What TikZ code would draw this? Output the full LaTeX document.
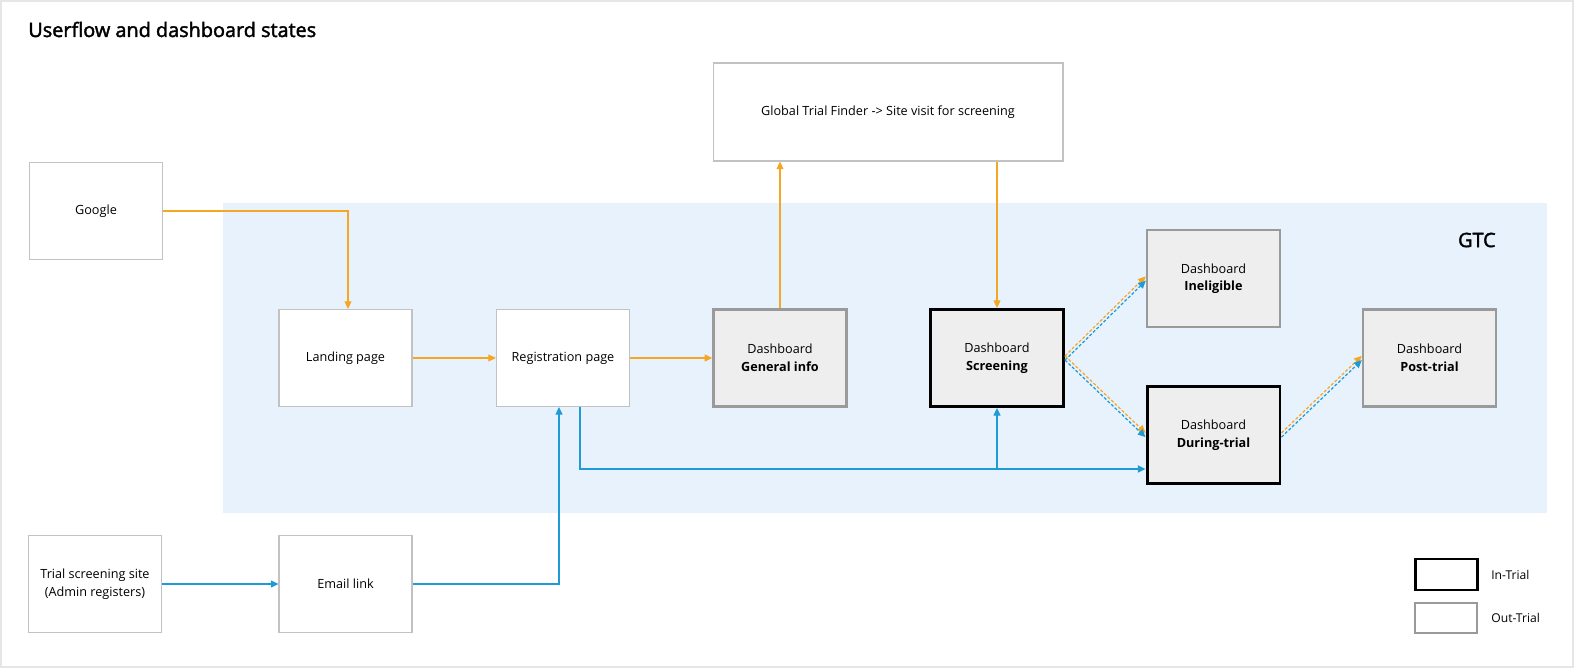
\documentclass[tikz,border=0pt]{standalone}
\usepackage{fontspec}
\setmainfont{Open Sans}
\newfontfamily\headfont{Open Sans}[FakeBold=2]
\usetikzlibrary{arrows.meta,calc}
\definecolor{flowor}{HTML}{F5A623}
\definecolor{flowbl}{HTML}{1E9AD6}
\definecolor{gtcbg}{HTML}{E8F2FD}
\definecolor{boxln}{HTML}{C2C2C2}
\definecolor{outln}{HTML}{9A9A9A}
\definecolor{dashfill}{HTML}{EEEEEE}
\definecolor{frameln}{HTML}{E6E6E6}

\begin{document}
\begin{tikzpicture}[x=0.02cm, y=-0.02cm, >={Triangle[length=4.4pt,width=4pt]},
   page/.style={rectangle, draw=boxln, fill=white, line width=0.6pt, minimum width=2.66cm, minimum height=1.94cm, align=center, font=\fontsize{7.2}{10}\selectfont, inner sep=2pt},
   intrial/.style={page, draw=black, line width=1.7pt, fill=dashfill},
   outtrial/.style={page, draw=outln, line width=1.4pt, fill=dashfill},
   orflow/.style={draw=flowor, line width=0.7pt},
   blflow/.style={draw=flowbl, line width=0.8pt},
   ordash/.style={orflow, dash pattern=on 1.7pt off 1.1pt, transform canvas={yshift=1.2pt}},
   bldash/.style={blflow, line width=0.7pt, dash pattern=on 1.7pt off 1.1pt, transform canvas={yshift=-1.2pt}},
   heading/.style={font=\fontsize{11.3}{13}\headfont, inner sep=0},
   keytext/.style={font=\fontsize{6.9}{9}\selectfont, inner sep=0, anchor=west}]
   \useasboundingbox (0,0) rectangle (1576,672);
   \draw[frameln, line width=1.2pt] (1,1) rectangle (1573,667);
   \fill[gtcbg] (223,203) rectangle (1547,513);
   \node (title) at (28,37) [heading, anchor=base west] {Userflow and dashboard states};
   \node (gtc) at (1496,240) [heading, anchor=east] {GTC};
   \node (google) at (96,211) [page] {Google};
   \node (landing) at (345.5,358) [page] {Landing page};
   \node (reg) at (563,358) [page] {Registration page};
   \node (ginfo) at (780,358) [page, outtrial] {Dashboard\\\textbf{General info}};
   \node (global) at (888,112) [page, minimum width=7cm, minimum height=1.96cm] {Global Trial Finder -> Site visit for screening};
   \node (screening) at (997,358) [page, intrial] {Dashboard\\\textbf{Screening}};
   \node (inel) at (1213.5,278.5) [page, outtrial] {Dashboard\\\textbf{Ineligible}};
   \node (during) at (1213.5,435) [page, intrial] {Dashboard\\\textbf{During-trial}};
   \node (post) at (1429.5,358) [page, outtrial] {Dashboard\\\textbf{Post-trial}};
   \node (trial) at (95,584) [page] {Trial screening site\\(Admin registers)};
   \node (email) at (345.5,584) [page] {Email link};
   \node (inkey) at (1446,574.5) [intrial, fill=white, minimum width=1.24cm, minimum height=0.62cm] {};
   \node (outkey) at (1446,618) [outtrial, fill=white, minimum width=1.24cm, minimum height=0.6cm] {};
   \node (inlbl) at (1491,574.5) [keytext] {In-Trial};
   \node (outlbl) at (1491,618) [keytext] {Out-Trial};
   \coordinate (bus) at (997,469);
   \draw[orflow, ->] (google.east) -| ($(landing.north)+(2.5,0)$);
   \draw[orflow, ->] (landing.east) -- (reg.west);
   \draw[orflow, ->] (reg.east) -- (ginfo.west);
   \draw[orflow, ->] (ginfo.north) -- (ginfo.north |- global.south);
   \draw[orflow, ->] (screening.north |- global.south) -- (screening.north);
   \draw[blflow, ->] (trial.east) -- (email.west);
   \draw[blflow, ->] (email.east) -| ($(reg.south)+(-4,0)$);
   \draw[blflow, ->] ($(reg.south)+(17,0)$) |- ($(during.west)+(0,34)$);
   \draw[blflow, ->] (bus) -- (screening.south);
   \draw[ordash, ->] (screening.east) -- (inel.west);
   \draw[bldash, ->] (screening.east) -- (inel.west);
   \draw[ordash, ->] (screening.east) -- (during.west);
   \draw[bldash, ->] (screening.east) -- (during.west);
   \draw[ordash, ->] (during.east) -- (post.west);
   \draw[bldash, ->] (during.east) -- (post.west);
\end{tikzpicture}
\end{document}
